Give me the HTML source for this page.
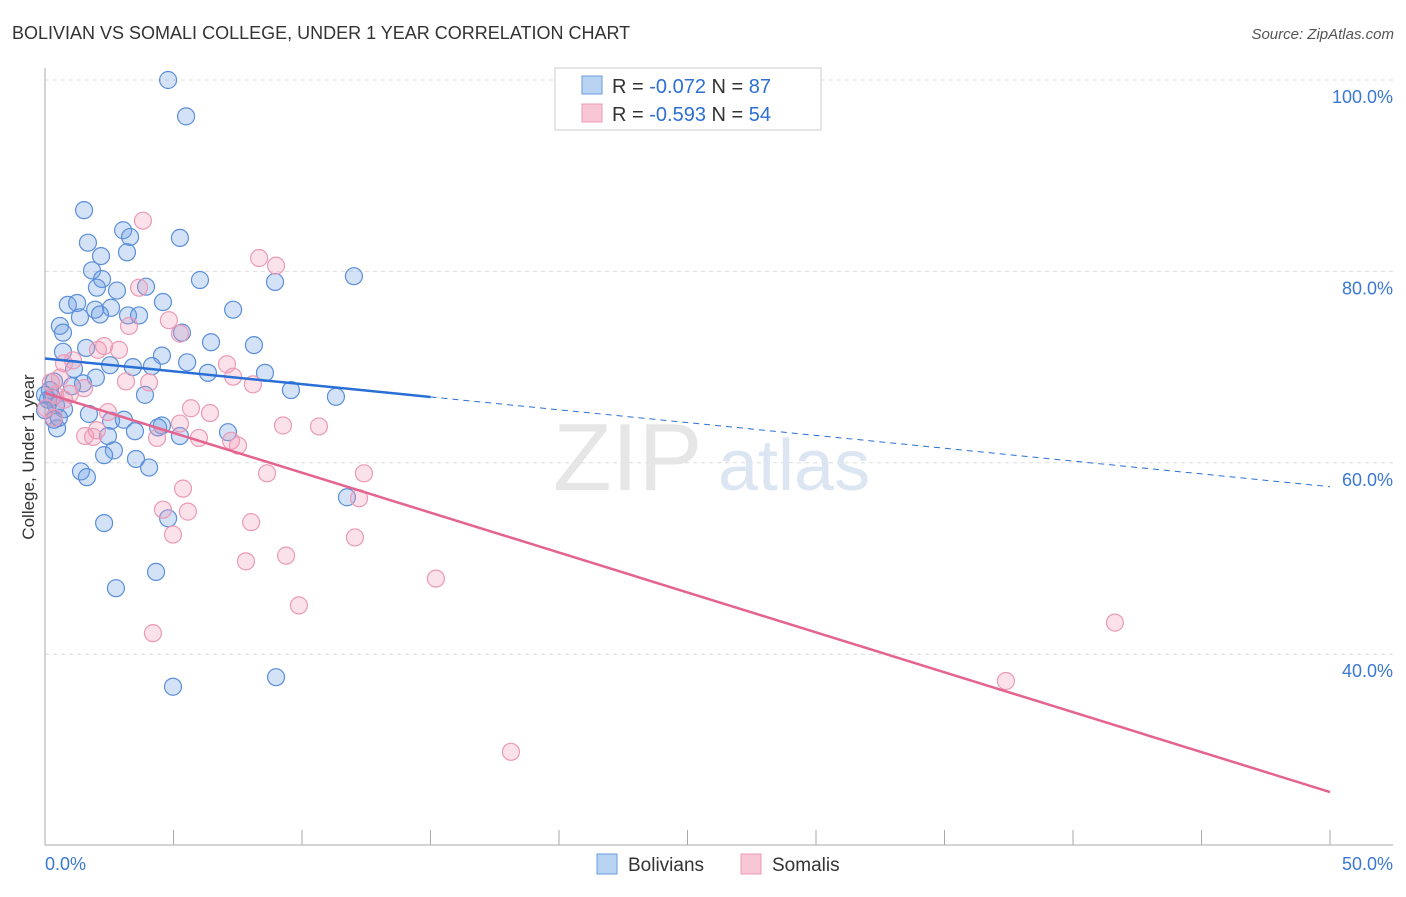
<!DOCTYPE html>
<html><head><meta charset="utf-8"><style>
body{margin:0;background:#fff;font-family:"Liberation Sans",sans-serif}
svg text{font-family:"Liberation Sans",sans-serif}
</style></head><body>
<svg id="chart" width="1406" height="892" xmlns="http://www.w3.org/2000/svg">
<text x="12" y="39" font-size="18" fill="#333">BOLIVIAN VS SOMALI COLLEGE, UNDER 1 YEAR CORRELATION CHART</text>
<text x="1394" y="39" font-size="15" fill="#555" font-style="italic" text-anchor="end">Source: ZipAtlas.com</text>
<g id="grid"></g>
<text x="553" y="490" font-size="96" fill="#e6e6e6" font-family="Liberation Serif">ZIP</text>
<text x="718" y="490" font-size="72" fill="#dce6f3">atlas</text>
<g id="axes"></g>
<g id="pts"></g>
<g id="trends"></g>
<g>
<rect x="555" y="68" width="266" height="62" fill="#fff" stroke="#ccc"/>
<rect x="582" y="76" width="20" height="18" fill="#b9d3f3" stroke="#6a9de0"/>
<rect x="582" y="104" width="20" height="18" fill="#f8c6d5" stroke="#ec9ab4"/>
<text x="612" y="93" font-size="20" fill="#333">R = <tspan fill="#2d6fd3">-0.072</tspan>   N = <tspan fill="#2d6fd3">87</tspan></text>
<text x="612" y="121" font-size="20" fill="#333">R = <tspan fill="#2d6fd3">-0.593</tspan>   N = <tspan fill="#2d6fd3">54</tspan></text>
</g>
<g>
<rect x="597" y="854" width="20" height="20" fill="#b9d3f3" stroke="#6a9de0"/>
<text x="628" y="871" font-size="19" fill="#333">Bolivians</text>
<rect x="741" y="854" width="20" height="20" fill="#f8c6d5" stroke="#ec9ab4"/>
<text x="772" y="871" font-size="19" fill="#333">Somalis</text>
</g>
<text transform="translate(34,457) rotate(-90)" font-size="17" fill="#333" text-anchor="middle">College, Under 1 year</text>
</svg>
<script>
const yTicks=[100,80,60,40];
const yTickLabels=["100.0%","80.0%","60.0%","40.0%"];
const xTickLabels=["0.0%","50.0%"];
const blueX=[4.79,5.49,1.52,3.04,3.31,1.67,5.25,3.19,2.18,1.83,6.03,12.02,8.95,2.22,2.02,2.80,3.93,4.59,0.89,1.25,1.95,1.36,2.57,2.14,3.23,3.66,7.32,0.58,0.70,5.33,6.46,8.13,1.60,0.70,4.55,5.53,2.53,3.42,4.16,6.34,8.56,1.13,1.98,1.48,1.05,0.35,0.19,0.27,0.43,0.74,0.12,0.0,9.57,11.32,3.89,4.55,4.40,1.71,2.57,3.07,3.50,2.45,5.25,7.12,0.47,0.35,2.68,2.30,3.54,1.40,4.05,1.63,11.75,4.79,2.30,4.32,2.76,4.98,8.99,0.54,0.0];
const blueY=[100.0,96.2,86.4,84.3,83.6,83.0,83.5,82.0,81.6,80.1,79.1,79.5,78.9,79.2,78.3,78.0,78.4,76.8,76.5,76.7,76.0,75.2,76.2,75.5,75.4,75.4,76.0,74.3,73.6,73.6,72.6,72.3,72.0,71.6,71.2,70.5,70.2,70.0,70.1,69.4,69.4,69.8,68.9,68.3,68.0,68.5,67.6,66.8,66.0,65.6,66.6,67.1,67.6,66.9,67.1,63.9,63.7,65.1,64.4,64.5,63.3,62.8,62.8,63.2,63.6,64.5,61.3,60.8,60.4,59.1,59.5,58.5,56.4,54.2,53.7,48.6,46.9,36.6,37.6,64.7,65.5];
const pinkX=[3.81,8.33,8.99,3.66,4.82,3.27,5.25,2.30,2.88,2.06,0.74,1.09,7.08,7.32,3.15,4.05,8.09,0.58,1.52,0.97,0.74,0.23,0.39,0.04,0.35,5.68,6.42,5.25,2.45,9.26,10.66,2.02,1.56,1.87,4.36,5.99,7.24,7.51,8.64,12.41,5.37,4.59,5.56,8.02,12.06,4.98,12.22,7.82,9.38,15.21,9.88,4.20,41.63,37.39,18.13];
const pinkY=[85.3,81.4,80.6,78.3,74.9,74.3,73.5,72.2,71.8,71.8,70.4,70.7,70.3,69.0,68.5,68.4,68.2,68.9,67.8,67.2,66.6,68.4,67.1,65.7,64.7,65.7,65.2,64.1,65.3,63.9,63.8,63.4,62.8,62.7,62.6,62.6,62.3,61.8,58.9,58.9,57.3,55.1,54.9,53.8,52.2,52.5,56.3,49.7,50.3,47.9,45.1,42.2,43.3,37.2,29.8];
const blueTrend=[70.9,57.5];
const pinkTrend=[67.3,25.6];
const NS="http://www.w3.org/2000/svg";
const sx=v=>45+v*25.7;
const sy=v=>80+(100-v)*9.57;
function mk(tag,attrs,parent){const e=document.createElementNS(NS,tag);for(const k in attrs)e.setAttribute(k,attrs[k]);parent.appendChild(e);return e;}
const grid=document.getElementById('grid'),axes=document.getElementById('axes'),pts=document.getElementById('pts'),tr=document.getElementById('trends');
yTicks.forEach((t,i)=>{
 const l=mk('line',{x1:45,x2:1393,y1:sy(t),y2:sy(t),stroke:'#ddd','stroke-dasharray':'4,4'},grid);
 
 
 const tx=mk('text',{x:1393,y:sy(t)+23,'font-size':18,fill:'#3a78d4','text-anchor':'end'},axes);
 tx.textContent=yTickLabels[i];
 
 
});
mk('line',{x1:45,x2:45,y1:68,y2:845,stroke:'#aaa'},axes);
mk('line',{x1:45,x2:1393,y1:845,y2:845,stroke:'#aaa'},axes);
for(let i=0;i<=10;i++){mk('line',{x1:sx(i*5),x2:sx(i*5),y1:830,y2:845,stroke:'#aaa'},axes);}
[[0,'start',45],[1,'end',1393]].forEach(([i,a,x])=>{const t=mk('text',{x:x,y:870,'font-size':18,fill:'#3a78d4','text-anchor':a},axes);t.textContent=xTickLabels[i];
 
 });
blueX.forEach((v,i)=>{const c=mk('circle',{cx:sx(v),cy:sy(blueY[i]),r:8.5,fill:'rgba(110,160,230,0.3)',stroke:'#5b8fd9','stroke-width':1.2},pts);
 
 });
pinkX.forEach((v,i)=>{const c=mk('circle',{cx:sx(v),cy:sy(pinkY[i]),r:8.5,fill:'rgba(240,150,180,0.28)',stroke:'#eb9ab5','stroke-width':1.2},pts);
 
 });
const bAt=x=>blueTrend[0]+(blueTrend[1]-blueTrend[0])*x/50;
let l1=mk('line',{x1:sx(0),y1:sy(bAt(0)),x2:sx(15),y2:sy(bAt(15)),stroke:'#2a6fd6','stroke-width':2.5},tr);


let l2=mk('line',{x1:sx(15),y1:sy(bAt(15)),x2:sx(50),y2:sy(bAt(50)),stroke:'#2a6fd6','stroke-width':1,'stroke-dasharray':'6,5'},tr);


let l3=mk('line',{x1:sx(0),y1:sy(pinkTrend[0]),x2:sx(50),y2:sy(pinkTrend[1]),stroke:'#e4638f','stroke-width':2.5},tr);


</script>
</body></html>
